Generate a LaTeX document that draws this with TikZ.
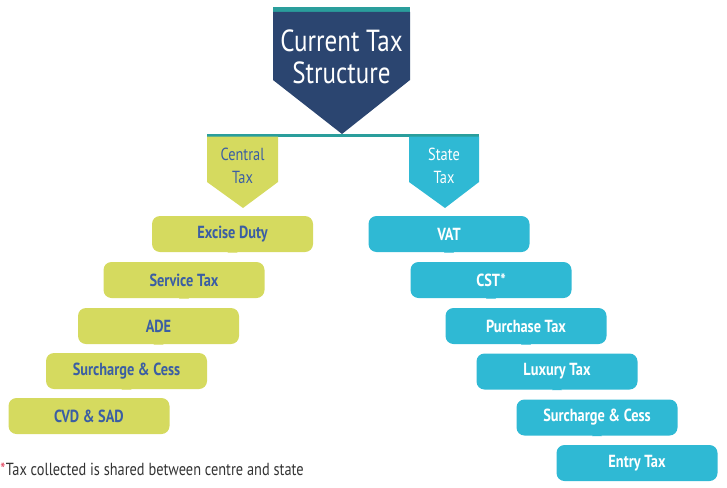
\documentclass[tikz,border=0pt]{standalone}
\usepackage{fontspec}
\setmainfont{PT Sans}
\newfontfamily\nar[FakeStretch=0.82]{PT Sans}
\usetikzlibrary{calc}
\definecolor{navy}{HTML}{2B4570}
\definecolor{tealbar}{HTML}{2A9E9C}
\definecolor{ygreen}{HTML}{D5DA5F}
\definecolor{cyanb}{HTML}{2FB9D4}
\definecolor{bluetxt}{HTML}{3B5EA3}
\definecolor{graytxt}{HTML}{333333}
\definecolor{redstar}{HTML}{E0405A}
\tikzset{
  taxbox/.style={rectangle, rounded corners=8pt, minimum width=161pt, minimum height=36pt, inner sep=0pt, font=\nar\bfseries\fontsize{17.5}{20}\selectfont},
  cbox/.style={taxbox, fill=ygreen, text=bluetxt},
  sbox/.style={taxbox, fill=cyanb, text=white},
}
\newcommand{\ptr}[2]{\fill[#2] ($(#1.south)+(-5,0.5)$) -- ($(#1.south)+(5,0.5)$) -- ($(#1.south)+(0,-6)$) -- cycle;}
\begin{document}
\begin{tikzpicture}[x=1pt,y=-1pt]
\useasboundingbox (0,0) rectangle (727,487);
% title
\fill[tealbar] (273,7) rectangle (410,12);
\fill[navy] (273,12) -- (410,12) -- (410,80) -- (342,134) -- (273,80) -- cycle;
\node[text=white, align=center, font=\nar\fontsize{30.5}{32}\selectfont] (title) at (341.5,57) {Current Tax\\Structure};
% bar
\fill[tealbar] (207,133.5) rectangle (479,136.5);
% central / state
\fill[ygreen] (207,136.5) -- (278,136.5) -- (278,182) -- (243,208) -- (207,182) -- cycle;
\fill[cyanb] (409,136.5) -- (479,136.5) -- (479,182) -- (445,208) -- (409,182) -- cycle;
\node[text=bluetxt, align=center, font=\nar\fontsize{17.5}{23}\selectfont] (central) at (242.5,166) {Central\\Tax};
\node[text=white, align=center, font=\nar\fontsize{17.5}{23}\selectfont] (state) at (444,166) {State\\Tax};
% left boxes
\node[cbox] (c1) at (232.5,234) {Excise Duty};
\node[cbox] (c2) at (184,280) {Service Tax};
\node[cbox] (c3) at (158.5,326) {ADE};
\node[cbox] (c4) at (126.5,371) {Surcharge \& Cess};
\node[cbox] (c5) at (89,416) {CVD \& SAD};
\ptr{c1}{ygreen}\ptr{c2}{ygreen}\ptr{c3}{ygreen}\ptr{c4}{ygreen}
% right boxes
\node[sbox] (s1) at (449,234) {VAT};
\node[sbox] (s2) at (491,280) {CST*};
\node[sbox] (s3) at (526,326) {Purchase Tax};
\node[sbox] (s4) at (557,371.5) {Luxury Tax};
\node[sbox] (s5) at (597,417.5) {Surcharge \& Cess};
\node[sbox] (s6) at (637,463) {Entry Tax};
\ptr{s1}{cyanb}\ptr{s2}{cyanb}\ptr{s3}{cyanb}\ptr{s4}{cyanb}\ptr{s5}{cyanb}
% footnote
\node[anchor=base west, inner sep=0pt, text=redstar, font=\nar\fontsize{17.5}{20}\selectfont] (star) at (0.3,475) {*};
\node[anchor=base west, inner sep=0pt, text=graytxt, font=\nar\fontsize{17.5}{20}\selectfont] (foot) at (star.base east) {Tax collected is shared between centre and state};
\end{tikzpicture}
\end{document}
